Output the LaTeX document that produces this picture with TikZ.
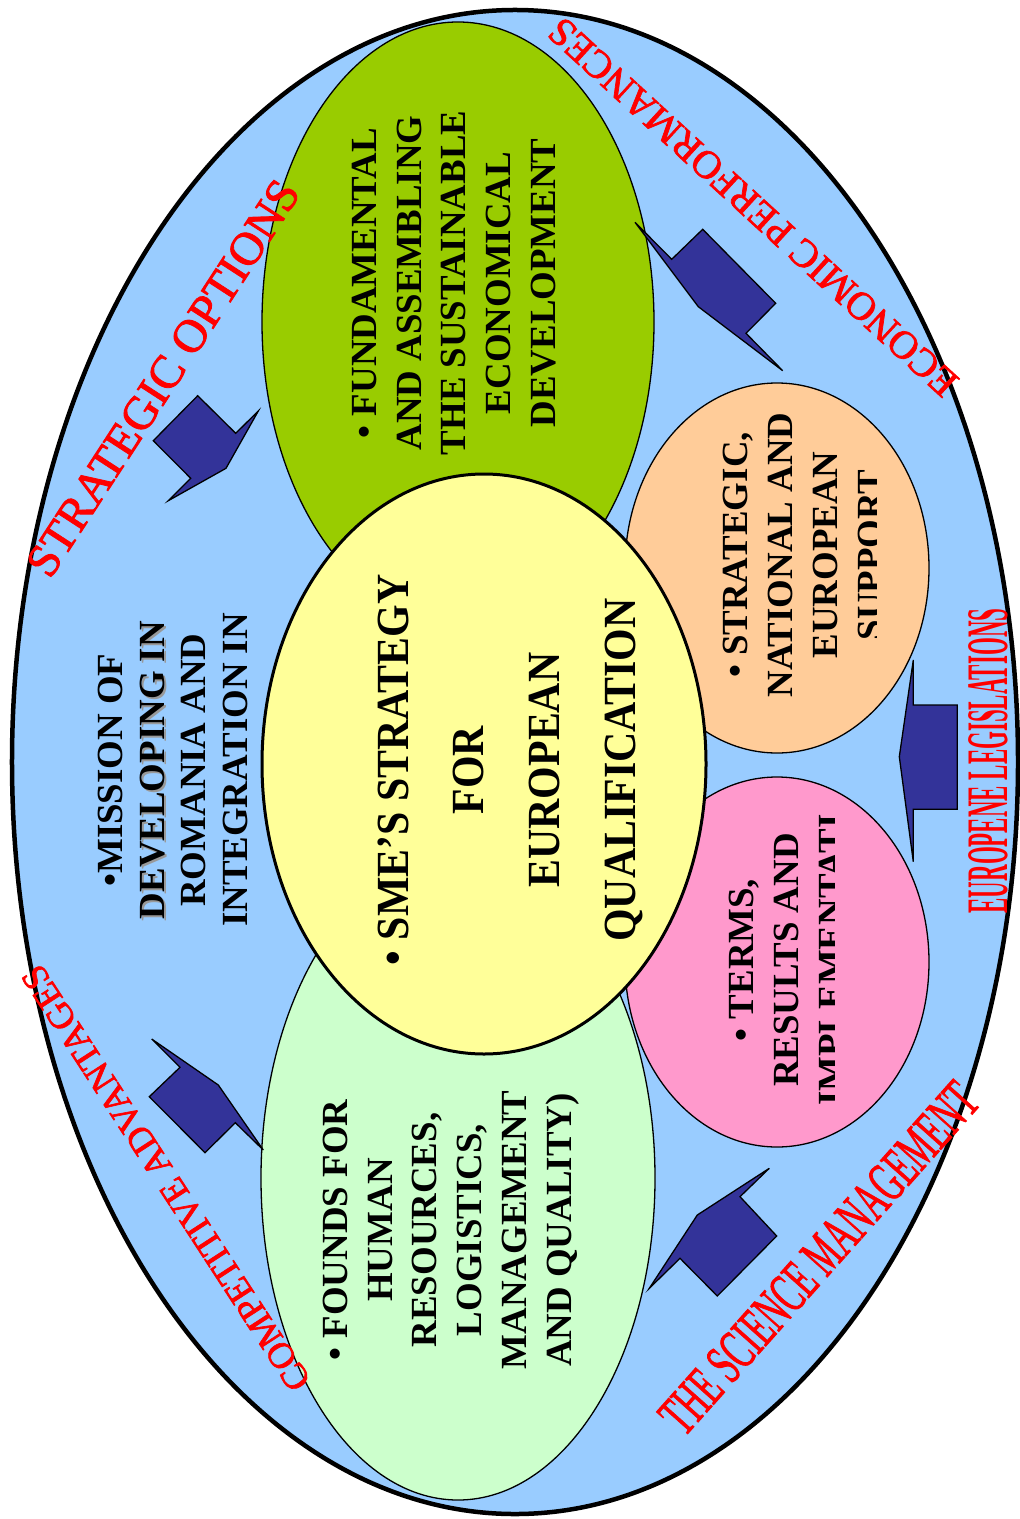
\documentclass[tikz,border=0pt]{standalone}
\usepackage{fontspec}
\setmainfont{Liberation Serif}
\newfontfamily\labelfont[FakeBold=1.8]{Liberation Serif}
\usepackage{graphicx}
\usetikzlibrary{shapes.geometric}
\definecolor{skyfill}{HTML}{99CCFF}
\definecolor{leafgreen}{HTML}{99CC00}
\definecolor{paleyellow}{HTML}{FFFF99}
\definecolor{mintgreen}{HTML}{CCFFCC}
\definecolor{peachfill}{HTML}{FFCC99}
\definecolor{rosepink}{HTML}{FF99CC}
\definecolor{navyarrow}{HTML}{333399}
\definecolor{labelred}{HTML}{FF0000}
\newcommand{\shadowline}[1]{\makebox[0pt][l]{\hspace*{-2bp}\raisebox{-2.5bp}{\color{gray!80}#1}}#1}
\newcommand{\tallline}[1]{\scalebox{1}[1.1]{#1}}
\begin{document}
\begin{tikzpicture}[x=1bp,y=-1bp,
  bubble/.style={ellipse, draw=black, line width=1.3bp, inner sep=0pt, outer sep=0pt},
  bodytext/.style={rotate=90, align=center, inner sep=0pt, font=\bfseries\fontsize{37}{45}\selectfont},
  redlabel/.style={text=labelred, inner sep=0pt},
  blockarrow/.style={fill=navyarrow, draw=black, line width=1.3bp, line join=miter},
]
\useasboundingbox (0,0) rectangle (1019,1519);

% ellipses
\node[bubble, line width=4.5bp, fill=skyfill, minimum width=1006bp, minimum height=1504bp] (outer) at (515,762) {};
\node[bubble, fill=leafgreen, minimum width=392bp, minimum height=600bp] (fund) at (458,322) {};
\node[bubble, fill=mintgreen, minimum width=394bp, minimum height=644bp] (founds) at (458,1178) {};
\node[bubble, fill=peachfill, minimum width=304bp, minimum height=370bp] (support) at (777,568) {};
\node[bubble, fill=rosepink, minimum width=304bp, minimum height=370bp] (terms) at (777,962) {};
\node[bubble, line width=3bp, fill=paleyellow, minimum width=444bp, minimum height=580bp] (sme) at (484,764) {};

% texts inside
\node[bodytext] (fundtext) at (454,283) {• FUNDAMENTAL\\AND ASSEMBLING\\THE SUSTAINABLE\\ECONOMICAL\\DEVELOPMENT};
\node[bodytext, font=\bfseries\fontsize{37}{42}\selectfont] (missiontext) at (173,770)
  {•MISSION OF\\\shadowline{DEVELOPING IN}\\ROMANIA AND\\INTEGRATION IN};
\node[bodytext, font=\bfseries\fontsize{42}{76}\selectfont] (smetext) at (510,770)
  {\tallline{• SME’S STRATEGY}\\\tallline{FOR}\\\tallline{EUROPEAN}\\\tallline{QUALIFICATION}};
\begin{scope}
  \clip (600,370) rectangle (876,770);
  \node[bodytext] (supporttext) at (803,555) {• STRATEGIC,\\NATIONAL AND\\EUROPEAN\\SUPPORT};
\end{scope}
\begin{scope}
  \clip (600,770) rectangle (834,1160);
  \node[bodytext] (termstext) at (786,960) {• TERMS,\\RESULTS AND\\IMPLEMENTATI};
\end{scope}
\node[bodytext] (foundstext) at (451,1230) {• FOUNDS FOR\\HUMAN\\RESOURCES,\\LOGISTICS,\\MANAGEMENT\\AND QUALITY)};

% red labels
\node[redlabel, rotate=57, font=\labelfont\fontsize{47}{47}\selectfont] (strat) at (163,378) {STRATEGIC OPTIONS};
\node[redlabel, rotate=137.5, font=\labelfont\fontsize{40}{40}\selectfont] (econ) at (753,207) {ECONOMIC PERFORMANCES};
\node[redlabel, rotate=123, font=\labelfont\fontsize{37}{37}\selectfont] (compet) at (166,1178) {COMPETITIVE ADVANTAGES};
\node[redlabel, rotate=48.3, font=\labelfont\fontsize{58}{58}\selectfont] (science) at (819,1258) {\scalebox{0.56}[1]{THE SCIENCE MANAGEMENT}};
\node[redlabel, rotate=90, font=\bfseries\fontsize{59}{59}\selectfont] (legis) at (988,761) {\scalebox{0.39}[1]{EUROPENE LEGISLATIONS}};

% block arrows
\draw[blockarrow] (197.7,395.7) -- (235.7,433.3) -- (258.3,411) -- (226,468.3) -- (168.3,500.7) -- (190.7,478.3) -- (153.3,440.7) -- cycle;
\draw[blockarrow] (702.7,229.3) -- (775.7,303.3) -- (746,333.3) -- (782.7,370.7) -- (698.3,306.7) -- (635,222.3) -- (671.7,259.3) -- cycle;
\draw[blockarrow] (151.7,1039) -- (180,1067.3) -- (149.3,1096.7) -- (205,1152.7) -- (235.3,1122.7) -- (263.3,1150) -- (218.3,1085) -- cycle;
\draw[blockarrow] (769.3,1168.3) -- (740,1196.7) -- (776.7,1236) -- (717.3,1296) -- (680,1258.3) -- (649.3,1288.3) -- (697.3,1215) -- cycle;
\draw[blockarrow] (913.3,660) -- (913.3,705) -- (957.3,705) -- (957.3,809.3) -- (913.3,809.3) -- (913.3,861.7) -- (899.3,756.7) -- cycle;
\end{tikzpicture}
\end{document}
